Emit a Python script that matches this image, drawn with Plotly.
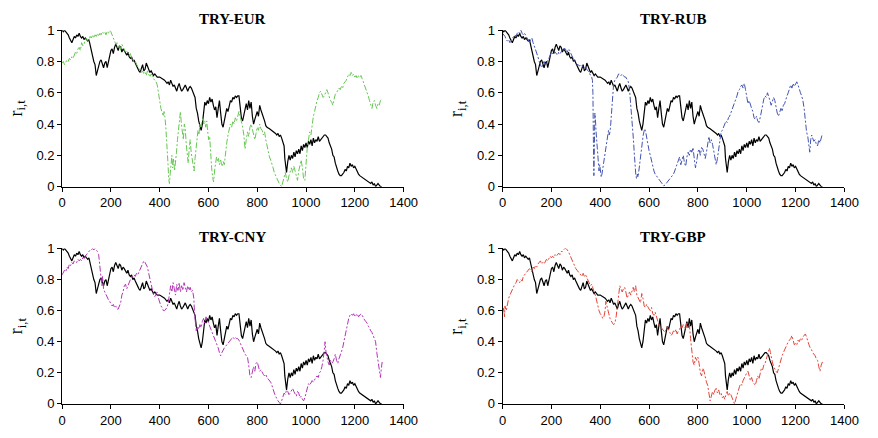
import plotly.graph_objects as go

# ---------------- data ----------------
black_pts = [(0,1.00),(5,0.99),(10,1.00),(15,0.99),(20,0.98),(25,0.97),(30,0.95),(35,0.93),(40,0.92),(45,0.94),
(50,0.96),(55,0.95),(60,0.97),(65,0.96),(70,0.98),(75,0.96),(80,0.95),(85,0.96),(90,0.94),(95,0.95),
(100,0.94),(105,0.93),(110,0.94),(115,0.90),(120,0.88),(125,0.82),(130,0.80),(135,0.78),(140,0.71),(145,0.74),
(150,0.77),(155,0.80),(160,0.81),(165,0.78),(170,0.76),(175,0.79),(180,0.80),(185,0.76),(190,0.80),(195,0.84),
(200,0.87),(205,0.88),(210,0.85),(215,0.89),(220,0.91),(225,0.89),(230,0.87),(235,0.90),(240,0.89),(245,0.86),
(250,0.88),(255,0.87),(260,0.85),(265,0.84),(270,0.86),(275,0.83),(280,0.82),(285,0.83),(290,0.80),(295,0.81),
(300,0.79),(305,0.77),(310,0.75),(315,0.74),(320,0.73),(325,0.76),(330,0.78),(335,0.74),(340,0.75),(345,0.79),
(350,0.77),(355,0.74),(360,0.73),(365,0.74),(370,0.72),(375,0.71),(380,0.72),(390,0.70),(400,0.70),(410,0.69),
(420,0.68),(430,0.66),(435,0.67),(440,0.65),(445,0.68),(450,0.66),(455,0.64),(460,0.65),(465,0.63),(470,0.61),
(475,0.64),(480,0.66),(485,0.63),(490,0.61),(495,0.62),(500,0.64),(505,0.65),(510,0.63),(515,0.61),(520,0.63),
(525,0.64),(530,0.63),(535,0.61),(540,0.60),(545,0.57),(550,0.50),(555,0.47),(560,0.42),(565,0.38),(570,0.36),
(575,0.40),(580,0.48),(585,0.54),(590,0.52),(595,0.55),(600,0.53),(605,0.57),(610,0.54),(615,0.56),(620,0.52),
(625,0.49),(630,0.51),(635,0.44),(640,0.50),(645,0.55),(650,0.47),(655,0.40),(660,0.38),(665,0.42),(670,0.45),
(675,0.50),(680,0.48),(685,0.53),(690,0.55),(695,0.54),(700,0.57),(705,0.56),(710,0.58),(715,0.57),(720,0.58),
(725,0.58),(730,0.50),(735,0.44),(740,0.42),(745,0.46),(750,0.50),(755,0.53),(760,0.49),(765,0.55),(770,0.50),
(775,0.54),(780,0.45),(785,0.40),(790,0.43),(795,0.46),(800,0.48),(805,0.45),(810,0.52),(815,0.49),(820,0.47),
(825,0.45),(830,0.42),(835,0.39),(840,0.38),(850,0.37),(860,0.36),(870,0.35),(875,0.34),(880,0.33),(885,0.34),
(890,0.32),(895,0.33),(900,0.31),(905,0.28),(910,0.26),(913,0.18),(916,0.12),(920,0.09),(925,0.16),(930,0.20),
(935,0.17),(940,0.20),(945,0.18),(950,0.22),(955,0.19),(960,0.23),(965,0.21),(970,0.24),(975,0.21),(980,0.26),
(985,0.23),(990,0.27),(995,0.25),(1000,0.28),(1005,0.25),(1010,0.29),(1015,0.27),(1020,0.30),(1025,0.26),(1030,0.31),
(1035,0.28),(1040,0.30),(1045,0.29),(1050,0.32),(1055,0.29),(1060,0.30),(1065,0.31),(1070,0.32),(1075,0.33),(1080,0.33),
(1085,0.32),(1090,0.31),(1095,0.28),(1100,0.26),(1105,0.24),(1110,0.20),(1115,0.19),(1120,0.15),(1125,0.12),(1130,0.10),
(1135,0.08),(1140,0.07),(1145,0.07),(1150,0.08),(1155,0.09),(1160,0.11),(1165,0.10),(1170,0.13),(1175,0.12),(1180,0.15),
(1185,0.13),(1190,0.14),(1195,0.12),(1200,0.13),(1205,0.11),(1210,0.09),(1215,0.08),(1220,0.07),(1230,0.06),(1240,0.05),
(1250,0.04),(1260,0.03),(1265,0.02),(1270,0.03),(1275,0.01),(1280,0.02),(1285,0.00),(1290,0.01),(1295,0.02),(1300,0.01),
(1305,0.00),(1310,0.00)]

eur_pts = [(0,0.79),(5,0.80),(10,0.78),(15,0.80),(20,0.81),(25,0.80),(30,0.82),(35,0.81),(40,0.83),(45,0.82),
(50,0.84),(55,0.86),(60,0.85),(65,0.88),(70,0.89),(75,0.87),(80,0.92),(85,0.90),(90,0.91),(95,0.94),
(100,0.95),(105,0.92),(110,0.93),(115,0.96),(120,0.95),(125,0.97),(130,0.95),(135,0.97),(140,0.96),(145,0.98),
(150,0.96),(155,0.98),(160,0.97),(165,0.99),(170,0.98),(175,0.99),(180,0.97),(185,0.99),(190,0.98),(195,1.00),
(200,0.99),(205,0.97),(210,0.95),(215,0.93),(220,0.91),(225,0.92),(230,0.89),(235,0.90),(240,0.88),(245,0.91),
(250,0.89),(255,0.87),(260,0.86),(265,0.87),(270,0.85),(275,0.84),(280,0.85),(285,0.82),(290,0.81),(295,0.80),
(300,0.80),(305,0.78),(310,0.77),(315,0.75),(320,0.75),(325,0.73),(330,0.74),(335,0.72),(340,0.73),(345,0.71),
(350,0.74),(355,0.72),(360,0.70),(365,0.72),(370,0.71),(375,0.69),(380,0.68),(385,0.67),(390,0.65),(395,0.61),
(400,0.55),(405,0.50),(410,0.47),(415,0.45),(418,0.48),(422,0.44),(426,0.36),(430,0.28),(434,0.15),(437,0.05),
(440,0.02),(443,0.08),(446,0.17),(450,0.20),(453,0.12),(457,0.18),(461,0.10),(465,0.15),(469,0.22),(473,0.30),
(477,0.38),(481,0.45),(485,0.48),(489,0.40),(493,0.36),(497,0.30),(501,0.40),(505,0.37),(509,0.27),(513,0.20),
(517,0.15),(521,0.24),(525,0.30),(529,0.22),(533,0.18),(537,0.12),(541,0.10),(545,0.18),(549,0.25),(553,0.30),
(557,0.36),(561,0.33),(565,0.40),(569,0.38),(573,0.42),(577,0.44),(581,0.40),(585,0.42),(589,0.38),(593,0.42),
(597,0.35),(601,0.30),(605,0.32),(609,0.20),(613,0.12),(617,0.06),(621,0.03),(625,0.10),(629,0.15),(633,0.19),
(637,0.16),(641,0.18),(645,0.14),(650,0.17),(655,0.13),(660,0.16),(665,0.14),(670,0.22),(675,0.28),(680,0.33),
(685,0.36),(690,0.40),(695,0.38),(700,0.42),(705,0.40),(710,0.44),(715,0.42),(720,0.46),(725,0.48),(730,0.45),
(735,0.42),(740,0.38),(745,0.33),(750,0.24),(755,0.30),(760,0.35),(765,0.32),(770,0.38),(775,0.40),(780,0.36),
(785,0.33),(790,0.30),(795,0.34),(800,0.38),(805,0.36),(810,0.40),(815,0.37),(820,0.36),(825,0.33),(830,0.35),
(835,0.30),(840,0.26),(845,0.22),(850,0.19),(855,0.17),(860,0.15),(865,0.12),(870,0.09),(875,0.07),(880,0.05),
(885,0.03),(890,0.02),(895,0.01),(900,0.00),(905,0.03),(910,0.06),(915,0.09),(920,0.05),(925,0.03),(930,0.07),
(935,0.10),(940,0.12),(945,0.09),(950,0.13),(955,0.10),(960,0.06),(965,0.04),(970,0.10),(975,0.15),(980,0.17),
(985,0.12),(990,0.05),(995,0.04),(1000,0.15),(1005,0.25),(1010,0.30),(1015,0.35),(1020,0.33),(1025,0.40),(1030,0.45),
(1035,0.48),(1040,0.52),(1045,0.55),(1050,0.57),(1055,0.60),(1060,0.61),(1065,0.59),(1070,0.57),(1075,0.58),(1080,0.60),
(1085,0.62),(1090,0.60),(1095,0.57),(1100,0.55),(1105,0.54),(1110,0.52),(1115,0.56),(1120,0.59),(1125,0.60),(1130,0.62),
(1135,0.63),(1140,0.62),(1145,0.64),(1150,0.63),(1155,0.66),(1160,0.67),(1165,0.68),(1170,0.70),(1175,0.72),(1180,0.71),
(1185,0.73),(1190,0.71),(1195,0.72),(1200,0.70),(1205,0.71),(1210,0.69),(1215,0.71),(1220,0.70),(1225,0.71),(1230,0.69),
(1235,0.67),(1240,0.65),(1245,0.63),(1250,0.60),(1255,0.58),(1260,0.55),(1265,0.52),(1270,0.50),(1275,0.54),(1280,0.55),
(1285,0.52),(1290,0.50),(1295,0.53),(1300,0.52),(1305,0.55),(1310,0.56)]

rub_pts = [(0,0.98),(5,0.97),(10,0.96),(15,0.94),(20,0.93),(25,0.94),(30,0.92),(35,0.93),(40,0.95),(45,0.96),
(50,0.97),(55,0.96),(60,0.98),(65,0.99),(70,0.98),(75,1.00),(80,0.98),(85,0.97),(90,0.98),(95,0.96),
(100,0.95),(105,0.94),(110,0.92),(115,0.94),(120,0.95),(125,0.92),(130,0.90),(135,0.88),(140,0.86),(145,0.83),
(150,0.80),(155,0.78),(160,0.76),(165,0.78),(170,0.80),(175,0.78),(180,0.79),(185,0.81),(190,0.82),(195,0.84),
(200,0.86),(205,0.85),(210,0.87),(215,0.86),(220,0.85),(225,0.84),(230,0.86),(235,0.85),(240,0.86),(245,0.88),
(250,0.87),(255,0.89),(260,0.87),(265,0.86),(270,0.88),(275,0.87),(280,0.85),(285,0.83),(290,0.81),(295,0.80),
(300,0.79),(305,0.78),(310,0.78),(315,0.77),(320,0.78),(325,0.77),(330,0.77),(335,0.76),(340,0.76),(345,0.75),
(350,0.74),(355,0.73),(360,0.71),(365,0.70),(368,0.68),(370,0.60),(372,0.30),(374,0.07),(376,0.25),(378,0.47),
(380,0.44),(383,0.35),(386,0.28),(389,0.18),(392,0.13),(395,0.10),(398,0.14),(401,0.09),(404,0.06),(407,0.08),
(410,0.11),(413,0.15),(416,0.18),(419,0.21),(422,0.26),(425,0.28),(428,0.31),(431,0.34),(434,0.36),(437,0.33),
(440,0.35),(443,0.40),(446,0.46),(449,0.55),(452,0.62),(455,0.66),(460,0.68),(465,0.69),(470,0.70),(475,0.72),
(480,0.72),(485,0.71),(490,0.72),(495,0.71),(500,0.70),(505,0.70),(510,0.68),(515,0.67),(520,0.62),(524,0.55),
(528,0.46),(532,0.40),(536,0.30),(540,0.20),(543,0.12),(546,0.07),(549,0.05),(552,0.08),(555,0.06),(558,0.10),
(561,0.14),(564,0.20),(567,0.25),(570,0.28),(573,0.30),(576,0.33),(579,0.35),(582,0.37),(585,0.36),(588,0.33),
(591,0.30),(595,0.27),(600,0.23),(605,0.20),(610,0.16),(615,0.14),(620,0.10),(625,0.08),(630,0.07),(635,0.06),
(640,0.045),(645,0.04),(650,0.03),(655,0.02),(660,0.005),(665,0.01),(670,0.02),(675,0.03),(680,0.045),(685,0.05),
(690,0.06),(695,0.07),(700,0.08),(705,0.10),(710,0.12),(715,0.14),(720,0.16),(725,0.19),(730,0.14),(735,0.17),
(740,0.20),(745,0.15),(750,0.13),(755,0.19),(760,0.22),(765,0.20),(770,0.24),(775,0.22),(780,0.25),(785,0.18),
(790,0.12),(795,0.16),(800,0.22),(805,0.24),(810,0.20),(815,0.25),(820,0.24),(825,0.21),(830,0.18),(835,0.22),
(840,0.28),(845,0.32),(850,0.28),(855,0.30),(860,0.27),(865,0.23),(870,0.17),(875,0.14),(880,0.18),(885,0.25),
(890,0.30),(895,0.35),(900,0.36),(905,0.38),(910,0.40),(915,0.42),(920,0.41),(925,0.44),(930,0.45),(935,0.47),
(940,0.49),(945,0.51),(950,0.53),(955,0.56),(960,0.58),(965,0.61),(970,0.62),(975,0.64),(980,0.65),(985,0.63),
(990,0.66),(995,0.62),(1000,0.58),(1005,0.53),(1010,0.55),(1015,0.52),(1020,0.50),(1025,0.48),(1030,0.44),(1035,0.43),
(1040,0.45),(1045,0.42),(1050,0.41),(1055,0.44),(1060,0.49),(1065,0.52),(1070,0.56),(1075,0.58),(1080,0.57),(1085,0.60),
(1090,0.58),(1095,0.55),(1100,0.52),(1105,0.54),(1110,0.57),(1115,0.55),(1120,0.50),(1125,0.47),(1130,0.45),(1135,0.48),
(1140,0.50),(1145,0.48),(1150,0.52),(1155,0.53),(1160,0.56),(1165,0.58),(1170,0.60),(1175,0.63),(1180,0.65),(1185,0.63),
(1190,0.66),(1195,0.64),(1200,0.66),(1205,0.67),(1210,0.65),(1215,0.62),(1220,0.60),(1225,0.58),(1230,0.55),(1235,0.50),
(1240,0.40),(1245,0.35),(1250,0.32),(1255,0.25),(1258,0.22),(1262,0.30),(1266,0.33),(1270,0.31),(1275,0.29),(1280,0.30),
(1285,0.27),(1290,0.26),(1295,0.30),(1300,0.28),(1305,0.32),(1310,0.34)]

cny_pts = [(0,0.83),(5,0.85),(10,0.86),(15,0.85),(20,0.88),(25,0.87),(30,0.90),(35,0.89),(40,0.91),(45,0.90),
(50,0.92),(55,0.91),(60,0.91),(65,0.93),(70,0.92),(75,0.93),(80,0.92),(85,0.94),(90,0.93),(95,0.95),
(100,0.96),(105,0.97),(110,0.98),(115,0.99),(120,0.99),(125,1.00),(130,0.99),(135,1.00),(140,0.99),(145,0.98),
(150,0.96),(153,0.90),(156,0.84),(160,0.80),(163,0.76),(166,0.82),(170,0.74),(175,0.72),(180,0.70),(185,0.69),
(190,0.67),(195,0.66),(200,0.64),(205,0.63),(210,0.64),(215,0.62),(220,0.63),(225,0.61),(230,0.61),(235,0.63),
(240,0.65),(245,0.70),(250,0.72),(255,0.76),(260,0.77),(265,0.74),(270,0.76),(275,0.79),(280,0.80),(285,0.81),
(290,0.82),(295,0.83),(300,0.82),(305,0.84),(310,0.83),(315,0.85),(320,0.86),(325,0.88),(330,0.90),(335,0.92),
(340,0.91),(345,0.89),(350,0.88),(355,0.84),(360,0.80),(365,0.76),(370,0.72),(375,0.70),(380,0.69),(385,0.71),
(390,0.72),(395,0.68),(400,0.65),(405,0.63),(410,0.62),(415,0.60),(420,0.60),(425,0.61),(430,0.62),(435,0.65),
(440,0.70),(445,0.76),(450,0.72),(455,0.78),(460,0.74),(465,0.70),(470,0.77),(475,0.73),(480,0.78),(485,0.72),
(490,0.76),(495,0.73),(500,0.78),(505,0.74),(510,0.72),(515,0.76),(520,0.73),(525,0.75),(530,0.72),(535,0.73),
(540,0.68),(543,0.58),(546,0.50),(550,0.47),(555,0.50),(560,0.48),(565,0.51),(570,0.49),(575,0.53),(580,0.55),
(585,0.52),(590,0.56),(595,0.54),(600,0.52),(605,0.50),(610,0.49),(615,0.47),(620,0.45),(625,0.43),(630,0.40),
(635,0.38),(640,0.36),(645,0.33),(650,0.31),(655,0.33),(660,0.35),(665,0.36),(670,0.37),(675,0.38),(680,0.39),
(685,0.40),(690,0.41),(695,0.42),(700,0.43),(705,0.42),(710,0.43),(715,0.42),(720,0.42),(725,0.41),(730,0.39),
(735,0.38),(740,0.36),(745,0.34),(750,0.32),(755,0.31),(760,0.30),(765,0.25),(770,0.18),(775,0.17),(780,0.22),
(785,0.24),(790,0.21),(795,0.26),(800,0.27),(805,0.24),(810,0.21),(815,0.22),(820,0.20),(825,0.19),(830,0.18),
(835,0.19),(840,0.17),(845,0.16),(850,0.15),(855,0.14),(860,0.12),(865,0.09),(870,0.07),(875,0.05),(880,0.03),
(885,0.02),(890,0.01),(895,0.00),(900,0.02),(905,0.05),(910,0.07),(915,0.06),(920,0.09),(925,0.08),(930,0.06),
(935,0.07),(940,0.09),(945,0.10),(950,0.08),(955,0.06),(960,0.05),(965,0.08),(970,0.07),(975,0.04),(980,0.05),
(985,0.03),(990,0.02),(995,0.04),(1000,0.07),(1005,0.10),(1010,0.13),(1015,0.12),(1020,0.14),(1025,0.15),(1030,0.14),
(1035,0.16),(1040,0.17),(1045,0.18),(1050,0.17),(1055,0.20),(1060,0.21),(1065,0.24),(1070,0.28),(1075,0.35),(1078,0.40),
(1082,0.33),(1085,0.30),(1090,0.27),(1095,0.25),(1100,0.28),(1105,0.26),(1110,0.27),(1115,0.29),(1120,0.32),(1125,0.28),
(1130,0.26),(1135,0.29),(1140,0.31),(1145,0.34),(1150,0.36),(1155,0.40),(1160,0.44),(1165,0.48),(1170,0.52),(1175,0.55),
(1180,0.57),(1185,0.58),(1190,0.57),(1195,0.58),(1200,0.56),(1205,0.57),(1210,0.58),(1215,0.56),(1220,0.57),(1225,0.58),
(1230,0.57),(1235,0.55),(1240,0.54),(1245,0.53),(1250,0.52),(1255,0.50),(1260,0.49),(1265,0.47),(1270,0.46),(1275,0.44),
(1280,0.42),(1285,0.40),(1290,0.33),(1295,0.28),(1300,0.24),(1305,0.17),(1308,0.22),(1312,0.27)]

gbp_pts = [(0,0.58),(5,0.62),(8,0.56),(10,0.63),(15,0.60),(20,0.65),(25,0.68),(30,0.70),(35,0.72),(40,0.73),
(45,0.75),(50,0.77),(55,0.78),(60,0.80),(65,0.79),(70,0.78),(75,0.80),(80,0.79),(85,0.82),(90,0.83),
(95,0.84),(100,0.85),(105,0.86),(110,0.87),(115,0.86),(120,0.85),(125,0.88),(130,0.87),(135,0.89),(140,0.88),
(145,0.90),(150,0.91),(155,0.92),(160,0.90),(165,0.91),(170,0.90),(175,0.92),(180,0.93),(185,0.92),(190,0.94),
(195,0.95),(200,0.94),(205,0.95),(210,0.94),(215,0.96),(220,0.95),(225,0.96),(230,0.97),(235,0.96),(240,0.98),
(245,0.98),(250,0.99),(255,1.00),(260,1.00),(265,0.99),(270,0.98),(275,0.96),(280,0.94),(285,0.92),(290,0.90),
(295,0.89),(300,0.87),(305,0.86),(310,0.85),(315,0.84),(320,0.83),(325,0.82),(330,0.84),(335,0.82),(340,0.83),
(345,0.81),(350,0.80),(355,0.78),(360,0.76),(365,0.77),(370,0.74),(375,0.72),(380,0.70),(385,0.66),(390,0.63),
(395,0.60),(400,0.58),(405,0.57),(410,0.55),(415,0.56),(420,0.60),(423,0.66),(426,0.64),(430,0.62),(435,0.58),
(440,0.55),(445,0.53),(450,0.52),(455,0.51),(460,0.52),(465,0.56),(470,0.62),(475,0.70),(480,0.76),(485,0.74),
(490,0.72),(495,0.74),(500,0.75),(505,0.72),(510,0.68),(515,0.70),(520,0.72),(525,0.70),(530,0.73),(535,0.75),
(540,0.72),(545,0.76),(550,0.70),(555,0.68),(560,0.66),(565,0.65),(570,0.71),(575,0.68),(580,0.63),(585,0.62),
(590,0.64),(595,0.62),(600,0.61),(605,0.60),(610,0.62),(615,0.58),(620,0.57),(625,0.59),(630,0.56),(635,0.53),
(640,0.51),(645,0.50),(650,0.49),(655,0.48),(660,0.47),(665,0.46),(670,0.48),(675,0.50),(680,0.47),(685,0.46),
(690,0.44),(695,0.45),(700,0.47),(705,0.46),(710,0.48),(715,0.45),(720,0.47),(725,0.48),(730,0.50),(735,0.49),
(740,0.51),(745,0.50),(750,0.48),(755,0.52),(760,0.49),(765,0.51),(770,0.42),(775,0.32),(780,0.27),(785,0.25),
(790,0.30),(795,0.28),(800,0.30),(805,0.26),(810,0.20),(815,0.18),(820,0.23),(825,0.21),(830,0.16),(835,0.14),
(840,0.12),(845,0.06),(850,0.02),(855,0.05),(860,0.08),(865,0.06),(870,0.09),(875,0.10),(880,0.07),(885,0.09),
(890,0.06),(895,0.07),(900,0.04),(905,0.05),(910,0.03),(915,0.06),(920,0.08),(925,0.05),(930,0.07),(935,0.06),
(940,0.04),(945,0.02),(950,0.00),(955,0.03),(960,0.06),(965,0.09),(970,0.11),(975,0.13),(980,0.12),(985,0.15),
(990,0.17),(995,0.19),(1000,0.20),(1005,0.21),(1010,0.18),(1015,0.15),(1020,0.17),(1025,0.14),(1030,0.13),(1035,0.12),
(1040,0.15),(1045,0.18),(1050,0.16),(1055,0.20),(1060,0.23),(1065,0.22),(1070,0.25),(1075,0.26),(1080,0.29),(1085,0.31),
(1090,0.34),(1093,0.36),(1097,0.33),(1100,0.30),(1105,0.27),(1110,0.24),(1115,0.22),(1120,0.21),(1125,0.20),(1130,0.23),
(1135,0.26),(1140,0.28),(1145,0.31),(1150,0.33),(1155,0.35),(1160,0.37),(1165,0.38),(1170,0.40),(1175,0.41),(1180,0.42),
(1185,0.44),(1190,0.40),(1195,0.38),(1200,0.39),(1205,0.38),(1210,0.41),(1215,0.40),(1220,0.42),(1225,0.41),(1230,0.43),
(1235,0.44),(1240,0.45),(1245,0.43),(1250,0.40),(1255,0.38),(1260,0.36),(1265,0.35),(1270,0.33),(1275,0.32),(1280,0.31),
(1285,0.29),(1290,0.28),(1295,0.24),(1300,0.21),(1305,0.25),(1310,0.27),(1315,0.26)]

panel_titles = ["TRY-EUR", "TRY-RUB", "TRY-CNY", "TRY-GBP"]
panel_series = [eur_pts, rub_pts, cny_pts, gbp_pts]
panel_colors = ["#66c752", "#4354b0", "#b235b5", "#e5453a"]
x_ticks = [0, 200, 400, 600, 800, 1000, 1200, 1400]
y_ticks = [0, 0.2, 0.4, 0.6, 0.8, 1]
y_tick_text = ["0", "0.2", "0.4", "0.6", "0.8", "1"]

# ---------------- layout geometry ----------------
W, H = 878, 438
x_domains = [[59.3 / W, 408 / W], [509 / W, 858 / W]]
y_domains = [[1 - 186 / H, 1 - 24 / H], [1 - 411 / H, 1 - 250 / H]]

fig = go.Figure()
annotations = []
bx = [p[0] for p in black_pts]
by = [p[1] for p in black_pts]

tick_font = dict(family="Liberation Sans, Arial, sans-serif", size=13, color="black")
serif = "Liberation Serif, Times New Roman, serif"

for i in range(4):
    row, col = divmod(i, 2)
    n = i + 1
    xa = "x" if n == 1 else f"x{n}"
    ya = "y" if n == 1 else f"y{n}"
    sx = [p[0] for p in panel_series[i]]
    sy = [p[1] for p in panel_series[i]]
    fig.add_trace(go.Scatter(x=bx, y=by, mode="lines", xaxis=xa, yaxis=ya,
                             line=dict(color="black", width=1.2), showlegend=False))
    fig.add_trace(go.Scatter(x=sx, y=sy, mode="lines", xaxis=xa, yaxis=ya,
                             line=dict(color=panel_colors[i], width=1, dash="6px,2px,2px,2px"),
                             showlegend=False))
    axis_common = dict(showline=True, linecolor="black", linewidth=1, ticks="outside",
                       ticklen=4, tickcolor="black", tickwidth=1, showgrid=False,
                       zeroline=False, mirror=False, tickfont=tick_font)
    fig.layout[("xaxis" if n == 1 else f"xaxis{n}")] = dict(
        domain=x_domains[col], anchor=ya, range=[0, 1400], tickvals=x_ticks, **axis_common)
    fig.layout[("yaxis" if n == 1 else f"yaxis{n}")] = dict(
        domain=y_domains[row], anchor=xa, range=[0, 1], tickvals=y_ticks,
        ticktext=y_tick_text, **axis_common)
    xd, yd = x_domains[col], y_domains[row]
    annotations.append(dict(text="<b>" + panel_titles[i] + "</b>", xref="paper", yref="paper",
                            x=(xd[0] + xd[1]) / 2, y=yd[1] + 12 / H, xanchor="center",
                            yanchor="middle", showarrow=False,
                            font=dict(family=serif, size=15, color="black")))
    annotations.append(dict(text="r<sub>i,t</sub>", xref="paper", yref="paper",
                            x=xd[0] - 46 / W, y=(yd[0] + yd[1]) / 2, xanchor="center",
                            yanchor="middle", textangle=-90, showarrow=False,
                            font=dict(family=serif, size=18, color="black")))

fig.update_layout(width=W, height=H, margin=dict(l=0, r=0, t=0, b=0),
                  paper_bgcolor="white", plot_bgcolor="white",
                  annotations=annotations, showlegend=False)

fig.write_html("out.html")
